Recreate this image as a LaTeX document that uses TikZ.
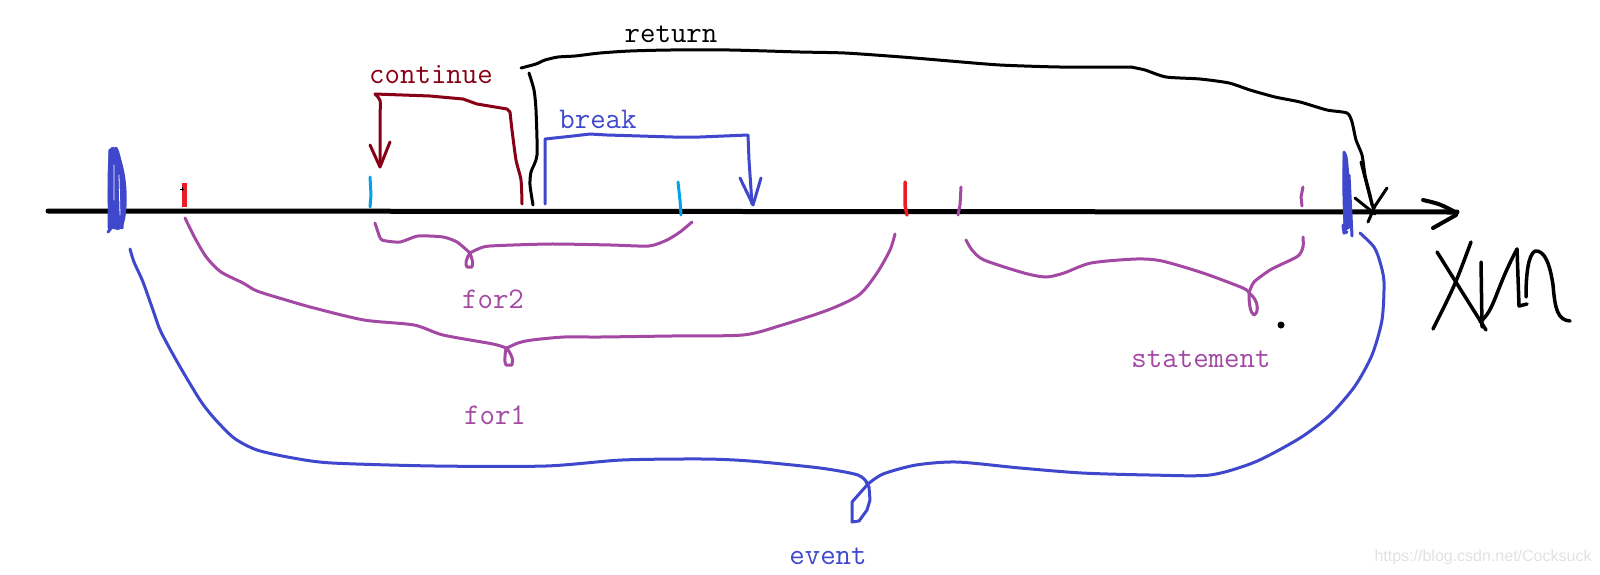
\documentclass[tikz,border=0pt]{standalone}
\usepackage{fontspec}
\setmonofont{Latin Modern Mono}
\newfontfamily\wmfont{Liberation Sans}
\definecolor{pdarkred}{RGB}{136,0,21}
\definecolor{pblue}{RGB}{63,72,204}
\definecolor{ppurple}{RGB}{163,73,164}
\definecolor{pred}{RGB}{237,28,36}
\definecolor{pcyan}{RGB}{0,162,232}
\definecolor{wmgray}{RGB}{226,226,226}
\tikzset{
  pen/.style={line width=3pt, line cap=round, line join=round},
  thickpen/.style={line width=4.5pt, line cap=round, line join=round},
  lbl/.style={font=\ttfamily\fontsize{30}{36}\selectfont, anchor=base, inner sep=0pt},
}
\begin{document}
\begin{tikzpicture}[x=1pt,y=-1pt]
\useasboundingbox[fill=white] (0,0) rectangle (1600,574);

% ---------- axis ----------
\draw[line width=5pt, line cap=round] (48,211) -- (1457,212);
\draw[pen, line width=4pt] (1423,200) .. controls (1440,204) .. (1457,213);
\draw[pen, line width=4pt] (1433,228) -- (1456,215);

% ---------- ticks ----------
\draw[line width=5pt, pred] (184,183) -- (184,207);
\draw[line width=1pt] (180,189) -- (184,189) (182,187) -- (182,191);
\draw[pen, pcyan] (370,177) -- (371,195) -- (370,207);
\draw[pen, pcyan] (678,182) -- (680,200) -- (681,215);
\draw[thickpen, line width=3.5pt, pred] (905,182) -- (905,205) -- (907,215);
\draw[pen, ppurple] (961,187) -- (960,205) -- (958,215);
\draw[pen, ppurple] (1303,187) -- (1301,197) -- (1302,206);

% ---------- blue scribbles (event ends) ----------
\begin{scope}[pblue, line width=3pt, line cap=round, line join=round]
  \fill (109,150) .. controls (112,145) and (115,146) .. (118,152)
    .. controls (126,168) and (128,195) .. (126,212)
    .. controls (125,224) and (122,230) .. (118,230)
    -- (109,228) .. controls (107,200) and (107,175) .. (109,150) -- cycle;
  \draw[white, line width=0.8pt] (114,165) -- (114,200) (119,175) -- (120,215);
  \draw (110,150) -- (109,228);
  \draw (116,148) .. controls (122,160) and (124,190) .. (122,228);
  \draw (108,232) -- (115,223);
  \fill (1343,153) .. controls (1345,150) and (1347,152) .. (1348,160)
    .. controls (1350,180) and (1351,205) .. (1350,228)
    -- (1344,232) .. controls (1342,200) and (1342,175) .. (1343,153) -- cycle;
  \draw (1344,152) -- (1345,232);
  \draw (1349,175) -- (1352,236);
  \draw (1343,225) -- (1344,233) -- (1347,232);
\end{scope}

% ---------- continue ----------
\draw[pen, pdarkred] plot[smooth, tension=0.4] coordinates {
  (522,204) (521,180) (516,160) (512,130) (510,112)};
\draw[pen, pdarkred] (510,112) -- (507,109) -- (477,104) -- (463,99)
  -- (430,96) -- (375,94);
\draw[pen, pdarkred] (375,94) .. controls (381,100) .. (380,112) -- (380,166);
\draw[pen, pdarkred] (370,145) -- (380,167) -- (390,142);
\node[lbl, text=pdarkred] (tcontinue) at (431,83) {continue};

% ---------- return ----------
\draw[pen] plot[smooth, tension=0.4] coordinates {
  (533,205) (530,185) (531,172) (537,155) (536,110) (534,90) (529,73)};
\draw[pen] plot[smooth, tension=0.4] coordinates {
  (521,68) (536,64) (545,60) (558,57) (575,56) (600,53) (630,51) (670,50)
  (730,50) (800,52) (845,53) (902,57) (950,61) (1000,65) (1060,67) (1131,67)};
\draw[pen] plot[smooth, tension=0.4] coordinates {
  (1131,67) (1145,70) (1166,77) (1200,79) (1229,83) (1250,90) (1275,97)
  (1300,102) (1327,110) (1347,113) (1352,122) (1356,140) (1362,155)
  (1365,175) (1370,195) (1374,212)};
\draw[pen] (1361,162) -- (1372,205);
\draw[pen] (1355,198) -- (1375,214);
\draw[pen] (1387,188) -- (1375,206) -- (1368,222);
\node[lbl, text=black] (treturn) at (671,42) {return};

% ---------- break ----------
\draw[pen, pblue] (545,204) -- (545,139) -- (573,136) -- (590,134)
  -- (607,135) -- (640,136) -- (673,137) -- (700,137) -- (748,135)
  -- (749,160) -- (752,204);
\draw[pen, pblue] (740,178) -- (753,205) -- (761,178);
\node[lbl, text=pblue] (tbreak) at (598,128) {break};

% ---------- for2 ----------
\draw[pen, ppurple] plot[smooth, tension=0.4] coordinates {
  (375,223) (378,232) (382,240) (400,242) (418,236) (443,237) (457,242) (470,253)};
\draw[pen, ppurple] (470,253) .. controls (466,258) and (465,265) .. (467,267)
  -- (472,267) .. controls (473,262) .. (470,253);
\draw[pen, ppurple] plot[smooth, tension=0.4] coordinates {
  (470,253) (478,249) (490,246) (550,244) (611,245) (649,246) (667,240)
  (680,232) (692,222)};
\node[lbl, text=ppurple] (tfor2) at (493,308) {for2};

% ---------- for1 ----------
\draw[pen, ppurple] plot[smooth, tension=0.45] coordinates {
  (185,218) (196,240) (207,258) (221,272) (243,283) (257,291) (286,300)
  (314,308) (364,320) (414,325) (443,335) (493,344) (506,348)};
\draw[pen, ppurple] (506,348) .. controls (505,355) and (504,362) .. (506,365)
  -- (512,365) .. controls (513,358) .. (507,348);
\draw[pen, ppurple] plot[smooth, tension=0.45] coordinates {
  (507,348) (518,343) (532,340) (564,337) (600,337) (671,336) (743,335)
  (779,326) (828,310) (859,295) (877,273) (890,250) (895,234)};
\node[lbl, text=ppurple] (tfor1) at (495,424) {for1};

% ---------- statement ----------
\draw[pen, ppurple] plot[smooth, tension=0.45] coordinates {
  (966,240) (972,250) (984,260) (1024,273) (1046,277) (1064,273) (1091,263)
  (1136,259) (1162,261) (1203,273) (1243,288) (1249,293)};
\draw[pen, ppurple] (1249,293) .. controls (1249,303) and (1250,313) .. (1254,315)
  .. controls (1259,313) and (1259,300) .. (1249,293);
\draw[pen, ppurple] plot[smooth, tension=0.45] coordinates {
  (1249,293) (1254,282) (1270,270) (1280,265) (1298,256) (1303,247) (1303,237)};
\fill (1281,325) circle[radius=3.5pt];
\node[lbl, text=ppurple] (tstatement) at (1201,367) {statement};

% ---------- event ----------
\draw[pen, pblue] plot[smooth, tension=0.45] coordinates {
  (130,249) (134,262) (143,282) (154,313) (161,332) (179,365) (200,400)
  (214,418) (234,438) (257,450) (293,458) (332,463) (435,466) (546,466)
  (622,460) (703,459) (750,461) (820,468) (858,475) (868,484)};
\draw[pen, pblue] (868,484) -- (852,502) -- (852,522) -- (859,521)
  -- (867,510) -- (870,500) -- (869,487) -- (866,482);
\draw[pen, pblue] plot[smooth, tension=0.45] coordinates {
  (868,484) (883,474) (916,465) (957,462) (1020,468) (1082,473) (1150,475)
  (1210,475) (1255,462) (1300,438) (1330,415) (1355,386) (1372,355)
  (1382,320) (1384,282) (1380,262) (1374,247) (1360,233)};
\node[lbl, text=pblue] (tevent) at (828,564) {event};

% ---------- XUn ----------
\begin{scope}[pen, line width=3.5pt]
  \draw (1437,252) -- (1486,330);
  \draw (1471,242) .. controls (1455,285) .. (1433,329);
  \draw (1481,262) -- (1482,327);
  \draw (1480,322) .. controls (1495,310) and (1495,290) .. (1517,249);
  \draw (1517,249) -- (1519,306) -- (1527,304);
  \draw (1526,297) .. controls (1526,275) and (1528,255) .. (1535,251)
    .. controls (1545,250) and (1550,265) .. (1553,285)
    .. controls (1555,310) and (1558,320) .. (1570,321);
\end{scope}

% ---------- watermark ----------
\node[anchor=base, inner sep=0pt, text=wmgray, font=\wmfont\fontsize{16}{19}\selectfont]
  (wm) at (1483,561) {https://blog.csdn.net/Cocksuck};
\end{tikzpicture}
\end{document}
